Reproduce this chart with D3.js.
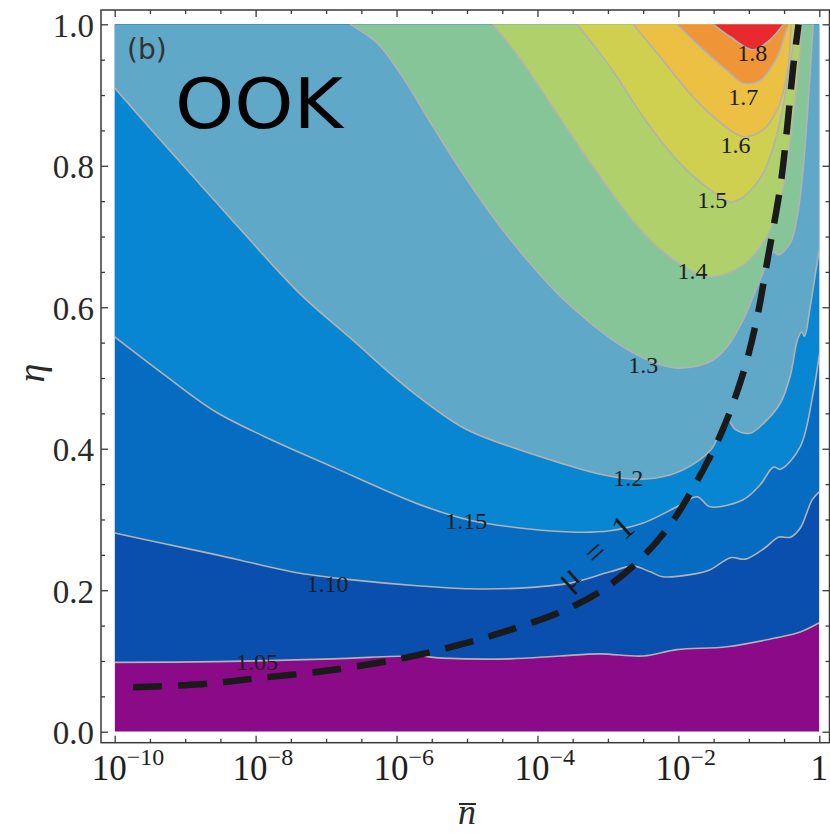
<!DOCTYPE html>
<html>
<head>
<meta charset="utf-8">
<script src="https://cdn.jsdelivr.net/npm/d3@7"></script>
<style>
body { margin: 0; background: #fff; }
svg { display: block; }
</style>
</head>
<body>
<script>
// contour levels, label text and fill colour of the band above each level
const levels = ["1.05", "1.10", "1.15", "1.2", "1.3", "1.4", "1.5", "1.6", "1.7", "1.8"];
const bandColors = ["#8a0a88", "#0a4fae", "#066cc2", "#0886d2", "#5fa8c8", "#86c597",
                    "#afd06b", "#d0d050", "#ecc043", "#ef9538", "#e8292e"];

// contour lines as [log10(nbar), eta]
const c105 = [[-10,0.098],[-8.55,0.099],[-6.90,0.103],[-5.71,0.107],[-5.34,0.104],[-4.39,0.103],
  [-3.68,0.107],[-3.11,0.110],[-2.50,0.107],[-2.02,0.116],[-1.31,0.120],[-0.60,0.133],[-0.27,0.141],[0,0.154]];
const c110 = [[-10,0.281],[-9.36,0.267],[-8.55,0.250],[-7.94,0.236],[-7.37,0.224],[-6.66,0.215],
  [-5.67,0.206],[-4.96,0.202],[-4.25,0.203],[-3.54,0.210],[-2.97,0.226],[-2.64,0.234],[-2.40,0.226],
  [-2.22,0.219],[-1.83,0.222],[-1.55,0.229],[-1.26,0.246],[-1.05,0.244],[-0.77,0.260],[-0.58,0.275],
  [-0.41,0.275],[-0.27,0.288],[-0.10,0.328],[0,0.339]];
const c115 = [[-10,0.558],[-9.29,0.504],[-8.58,0.453],[-7.87,0.417],[-6.90,0.374],[-5.67,0.321],
  [-4.96,0.299],[-4.25,0.288],[-3.44,0.282],[-2.97,0.284],[-2.50,0.295],[-2.02,0.318],[-1.73,0.332],
  [-1.55,0.318],[-1.08,0.328],[-0.84,0.349],[-0.65,0.374],[-0.55,0.371],[-0.27,0.403],[-0.085,0.480],[0,0.533]];
const c120 = [[-10,0.910],[-9.50,0.853],[-8.79,0.774],[-8.08,0.695],[-7.37,0.619],[-6.66,0.557],
  [-5.81,0.483],[-5.04,0.429],[-4.39,0.403],[-3.68,0.380],[-3.11,0.364],[-2.61,0.357],[-2.12,0.363],
  [-1.76,0.380],[-1.52,0.401],[-1.31,0.441],[-1.19,0.427],[-0.98,0.422],[-0.77,0.438],[-0.55,0.465],
  [-0.41,0.504],[-0.31,0.554],[-0.25,0.565],[-0.21,0.559],[-0.13,0.600],[-0.04,0.657],[0,0.681]];
const c130 = [[-6.66,1],[-6.28,0.974],[-5.95,0.931],[-5.48,0.855],[-5.00,0.780],[-4.53,0.714],
  [-4.06,0.657],[-3.68,0.616],[-3.25,0.578],[-2.83,0.547],[-2.40,0.524],[-2.02,0.514],[-1.55,0.523],
  [-1.31,0.544],[-1.08,0.582],[-0.84,0.639],[-0.65,0.678],[-0.58,0.674],[-0.41,0.691],[-0.31,0.730],
  [-0.227,0.798],[-0.155,0.893],[-0.10,0.978],[-0.086,1]];
const c140 = [[-4.64,1],[-4.29,0.957],[-3.92,0.903],[-3.21,0.798],[-2.50,0.705],[-2.02,0.664],
  [-1.55,0.643],[-1.08,0.660],[-0.77,0.695],[-0.55,0.752],[-0.41,0.836],[-0.31,0.921],[-0.24,1]];
const c150 = [[-3.44,1],[-2.97,0.940],[-2.50,0.869],[-2.02,0.808],[-1.55,0.766],[-1.26,0.749],
  [-1.08,0.756],[-0.795,0.790],[-0.60,0.846],[-0.455,0.917],[-0.33,1]];
const c160 = [[-2.64,1],[-2.26,0.954],[-1.79,0.897],[-1.405,0.861],[-1.08,0.841],[-0.795,0.851],
  [-0.60,0.879],[-0.455,0.931],[-0.40,1]];
const c170 = [[-2.02,1],[-1.69,0.968],[-1.31,0.935],[-1.08,0.917],[-0.84,0.921],[-0.60,0.954],
  [-0.49,0.985],[-0.44,1]];
const c180 = [[-1.505,1],[-1.26,0.982],[-0.94,0.964],[-0.70,0.978],[-0.51,1]];
const contours = [c105, c110, c115, c120, c130, c140, c150, c160, c170, c180];

// where each level label sits
const labelX = [-7.98, -6.98, -5.01, -2.71, -2.50, -1.80, -1.52, -1.19, -1.08, -0.95];
const labelY = [0.0985, 0.209, 0.298, 0.359, 0.518, 0.651, 0.752, 0.829, 0.897, 0.959];

// mu = 1 curve
const mu1 = [[-9.74,0.063],[-8.79,0.067],[-7.94,0.076],[-6.94,0.087],[-5.95,0.103],[-5.10,0.123],
  [-4.39,0.144],[-3.68,0.169],[-3.11,0.198],[-2.58,0.240],[-2.12,0.292],[-1.65,0.370],[-1.37,0.427],
  [-1.08,0.507],[-0.89,0.582],[-0.735,0.667],[-0.55,0.773],[-0.455,0.855],[-0.37,0.940],[-0.295,1]];

// ticks
const xMajor = [1e-10, 1e-8, 1e-6, 1e-4, 1e-2, 1];
const xMajorExp = ["\u221210", "\u22128", "\u22126", "\u22124", "\u22122", ""];
const xMinor = d3.range(-9.5, 0, 0.5).filter(e => e % 2 !== 0).map(e => Math.pow(10, e));
const yMajor = [0, 0.2, 0.4, 0.6, 0.8, 1.0];
const yMinor = d3.range(1, 20).filter(i => i % 4 !== 0).map(i => i * 0.05);

const W = 830, H = 833;
const frame = {left: 101, top: 10, right: 829.5, bottom: 742.7};
const serif = "'Liberation Serif', 'Times New Roman', serif";

const x = d3.scaleLog().domain([1e-10, 1]).range([114.7, 819.3]);
const y = d3.scaleLinear().domain([0, 1]).range([731.7, 24.3]);
const px = p => x(Math.pow(10, p[0]));
const py = p => y(p[1]);

const svg = d3.select("body").append("svg")
  .attr("width", W)
  .attr("height", H);

svg.append("clipPath").attr("id", "plotclip")
  .append("rect")
  .attr("x", x(1e-10)).attr("y", y(1))
  .attr("width", x(1) - x(1e-10)).attr("height", y(0) - y(1));

const plot = svg.append("g").attr("clip-path", "url(#plotclip)");

// lowest band
plot.append("rect")
  .attr("x", x(1e-10)).attr("y", y(1))
  .attr("width", x(1) - x(1e-10)).attr("height", y(0) - y(1))
  .attr("fill", bandColors[0]);

const line = d3.line().x(px).y(py).curve(d3.curveCatmullRom.alpha(0.5));

// region above each contour, closed along the plot edges
contours.forEach(function(c, i) {
  const first = c[0], last = c[c.length - 1];
  const corners = [];
  if (last[0] === 0 && last[1] < 1) corners.push([0, 1]);
  if (first[0] === -10 && first[1] < 1) corners.push([-10, 1]);
  const d = line(c) + corners.map(p => "L" + px(p) + "," + py(p)).join("") + "Z";
  plot.append("path")
    .attr("d", d)
    .attr("fill", bandColors[i + 1]);
});

contours.forEach(function(c) {
  plot.append("path")
    .attr("d", line(c))
    .attr("fill", "none")
    .attr("stroke", "#b2b2b2")
    .attr("stroke-width", 1.6);
});

// contour labels
plot.selectAll(".clabel")
  .data(levels)
  .enter().append("text")
  .attr("class", "clabel")
  .attr("x", (d, i) => x(Math.pow(10, labelX[i])))
  .attr("y", (d, i) => y(labelY[i]))
  .attr("text-anchor", "middle")
  .attr("dominant-baseline", "central")
  .style("font-family", serif)
  .attr("font-size", 24)
  .attr("fill", "#1e1e1e")
  .text(d => d);

// mu = 1 dashed curve
plot.append("path")
  .attr("d", line(mu1))
  .attr("fill", "none")
  .attr("stroke", "#1a1a1a")
  .attr("stroke-width", 6.5)
  .attr("stroke-dasharray", "29,16");

const muLabel = svg.append("g")
  .attr("transform", "translate(" + x(Math.pow(10, -3.18)) + "," + y(0.254) + ") rotate(-42)");
[["\u03bc", -37], ["=", 0], ["1", 37]].forEach(function(t) {
  muLabel.append("text")
    .attr("x", t[1])
    .attr("y", 0)
    .attr("text-anchor", "middle")
    .attr("dominant-baseline", "central")
    .style("font-family", serif)
    .attr("font-size", 34)
    .attr("fill", "#1a1a1a")
    .text(t[0]);
});

// frame
svg.append("rect")
  .attr("x", frame.left).attr("y", frame.top)
  .attr("width", frame.right - frame.left)
  .attr("height", frame.bottom - frame.top)
  .attr("fill", "none")
  .attr("stroke", "#3a3a3a")
  .attr("stroke-width", 1.5);

function ticks(axisFn, scale, vals, size, transform) {
  svg.append("g")
    .attr("transform", transform)
    .call(axisFn(scale).tickValues(vals).tickSize(size).tickFormat(""))
    .call(g => g.select(".domain").remove())
    .selectAll("line")
    .attr("stroke", "#3a3a3a")
    .attr("stroke-width", 1.3);
}

ticks(d3.axisBottom, x, xMajor, -7, "translate(0," + frame.bottom + ")");
ticks(d3.axisBottom, x, xMinor, -4, "translate(0," + frame.bottom + ")");
ticks(d3.axisTop, x, xMajor, -7, "translate(0," + frame.top + ")");
ticks(d3.axisTop, x, xMinor, -4, "translate(0," + frame.top + ")");
ticks(d3.axisLeft, y, yMajor, -7, "translate(" + frame.left + ",0)");
ticks(d3.axisLeft, y, yMinor, -4, "translate(" + frame.left + ",0)");
ticks(d3.axisRight, y, yMajor, -7, "translate(" + frame.right + ",0)");
ticks(d3.axisRight, y, yMinor, -4, "translate(" + frame.right + ",0)");

// tick labels
svg.selectAll(".ylab")
  .data(yMajor)
  .enter().append("text")
  .attr("class", "ylab")
  .attr("x", 94)
  .attr("y", d => y(d) + 12.5)
  .attr("text-anchor", "end")
  .style("font-family", serif)
  .attr("font-size", 33)
  .attr("fill", "#2a2a2a")
  .text(d => d.toFixed(1));

xMajor.forEach(function(v, i) {
  const t = svg.append("text")
    .attr("y", 780)
    .style("font-family", serif)
    .attr("font-size", 35)
    .attr("fill", "#1e1e1e");
  if (xMajorExp[i] === "") {
    t.attr("x", x(v)).attr("text-anchor", "middle").text("1");
  } else {
    t.attr("x", x(v) - 23).attr("text-anchor", "start");
    t.append("tspan").text("10");
    t.append("tspan").attr("dy", -15).attr("font-size", 24).text(xMajorExp[i]);
  }
});

// axis titles
svg.append("text")
  .attr("transform", "translate(31,373) rotate(-90)")
  .attr("text-anchor", "middle")
  .attr("dominant-baseline", "central")
  .style("font-family", serif)
  .attr("font-style", "italic")
  .attr("font-size", 38)
  .attr("fill", "#2a2a2a")
  .text("\u03b7");

svg.append("text")
  .attr("x", 467).attr("y", 824)
  .attr("text-anchor", "middle")
  .style("font-family", serif)
  .attr("font-style", "italic")
  .attr("font-size", 36)
  .attr("fill", "#2a2a2a")
  .text("n");
svg.append("line")
  .attr("x1", 459).attr("x2", 476)
  .attr("y1", 804).attr("y2", 804)
  .attr("stroke", "#2a2a2a")
  .attr("stroke-width", 2);

// panel tags
svg.append("text")
  .attr("x", 127).attr("y", 59)
  .style("font-family", "'DejaVu Sans', sans-serif")
  .attr("font-size", 28)
  .attr("fill", "#333")
  .text("(b)");

svg.append("text")
  .attr("x", 175).attr("y", 128)
  .style("font-family", "'DejaVu Sans', sans-serif")
  .attr("font-size", 70)
  .attr("textLength", 168)
  .attr("lengthAdjust", "spacingAndGlyphs")
  .attr("fill", "#000")
  .text("OOK");
</script>
</body>
</html>
